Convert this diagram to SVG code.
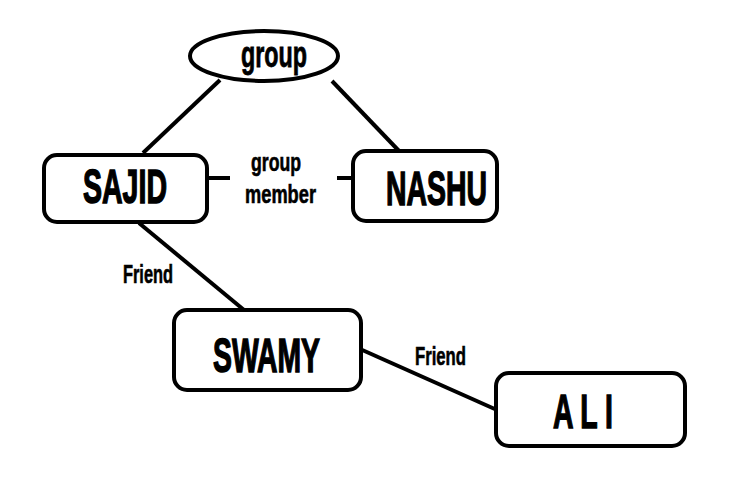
<svg xmlns="http://www.w3.org/2000/svg" width="740" height="484" viewBox="0 0 740 484">
<style>
.box{fill:#fff;stroke:#000;stroke-width:4}
.edge{stroke:#000;stroke-width:4;fill:none;stroke-linecap:butt}
text{font-family:"Liberation Sans",Arial,sans-serif;font-weight:bold;fill:#000}
.big{font-size:49px;stroke:#000;stroke-width:1.5}
.lbl{font-size:25px;stroke:#000;stroke-width:0.6}
</style>
<rect width="740" height="484" fill="#fff"/>
<g id="connectors">
<line class="edge" x1="220" y1="80" x2="143" y2="153"/>
<line class="edge" x1="332" y1="81" x2="400" y2="152"/>
<line class="edge" x1="207" y1="178" x2="230" y2="178"/>
<line class="edge" x1="337" y1="178" x2="353" y2="178"/>
<line class="edge" x1="139" y1="223" x2="244" y2="310"/>
<line class="edge" x1="360" y1="349" x2="497" y2="410"/>
<text class="lbl" x="251" y="171" textLength="50" lengthAdjust="spacingAndGlyphs">group</text>
<text class="lbl" x="245" y="203" textLength="71" lengthAdjust="spacingAndGlyphs">member</text>
<text class="lbl" x="123" y="283" font-size="27" textLength="50" lengthAdjust="spacingAndGlyphs">Friend</text>
<text class="lbl" x="415" y="365" font-size="27" textLength="51" lengthAdjust="spacingAndGlyphs">Friend</text>
</g>
<g id="group">
<ellipse class="box" cx="264" cy="56" rx="74" ry="25"/>
<text x="241" y="67" font-size="36" stroke="#000" stroke-width="0.8" textLength="66" lengthAdjust="spacingAndGlyphs">group</text>
</g>
<g id="sajid">
<rect class="box" x="44" y="155" width="163" height="67" rx="13"/>
<text class="big" x="83" y="203" textLength="84" lengthAdjust="spacingAndGlyphs">SAJID</text>
</g>
<g id="nashu">
<rect class="box" x="353" y="151" width="144" height="70" rx="13"/>
<text class="big" x="386" y="205" textLength="101" lengthAdjust="spacingAndGlyphs">NASHU</text>
</g>
<g id="swamy">
<rect class="box" x="174" y="310" width="187" height="80" rx="13"/>
<text class="big" x="213" y="372" font-size="51" textLength="107" lengthAdjust="spacingAndGlyphs">SWAMY</text>
</g>
<g id="ali">
<rect class="box" x="496" y="373" width="189" height="73" rx="13"/>
<text class="big" x="553" y="428" font-size="52" textLength="60" lengthAdjust="spacingAndGlyphs">A L I</text>
</g>
</svg>
